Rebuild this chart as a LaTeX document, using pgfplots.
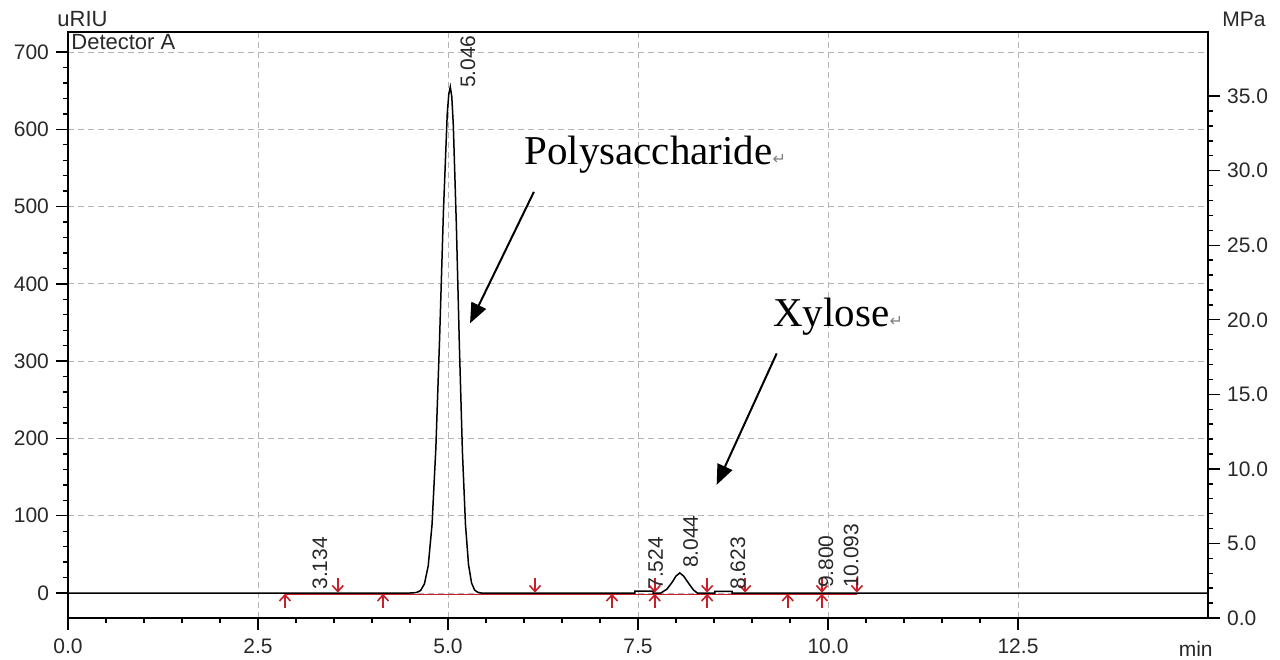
\documentclass[border=0pt]{standalone}
\usepackage{fontspec}
\setmainfont{Liberation Sans}
\newfontfamily\seriffont{Liberation Serif}
\newfontfamily\symfont{DejaVu Sans}
\usepackage{pgfplots}
\pgfplotsset{compat=1.18}
\usetikzlibrary{arrows.meta}
\definecolor{gridgray}{RGB}{180,180,180}
\definecolor{markred}{RGB}{200,30,40}
\definecolor{labelgray}{RGB}{40,40,40}

\begin{document}
\begin{tikzpicture}
\begin{axis}[
    name=main,
    scale only axis, width=570pt, height=293pt,
    xmin=0, xmax=15, ymin=-32.3, ymax=725.9,
    xtick={0,2.5,5,7.5,10,12.5},
    ytick={0,100,...,700},
    minor x tick num=4, minor y tick num=4,
    tick align=outside,
    xtick pos=left, ytick pos=left,
    major tick length=6pt, minor tick length=2.5pt,
    axis line style={line width=1pt},
    every tick/.style={black, line width=0.7pt},
    xmajorgrids, ymajorgrids,
    major grid style={gridgray, dash pattern=on 3pt off 2pt, line width=0.5pt},
    /pgf/number format/assume math mode=true,
    ticklabel style={font=\fontsize{10.5}{12}\selectfont, text=labelgray},
    xticklabel style={yshift=-1pt, /pgf/number format/.cd, fixed, fixed zerofill, precision=1},
    yticklabel style={/pgf/number format/.cd, fixed, precision=0},
    clip=false,
]
% integration baseline (drawn first, just under the signal)
\addplot[markred, line width=0.6pt] coordinates {(2.855,-2) (10.38,-2)};
% detector signal
\addplot[black, line width=0.75pt] coordinates {
  (0,0) (4.49,0) (4.54,0.2) (4.59,0.8) (4.64,3.3) (4.69,11.9) (4.74,35.4)
  (4.79,88.6) (4.84,187) (4.89,331) (4.94,494) (4.99,620) (5.01,645) (5.03,655)
  (5.05,642) (5.07,605) (5.11,476) (5.15,319) (5.19,182) (5.23,88.6) (5.27,36.8)
  (5.31,13) (5.35,3.9) (5.39,1.0) (5.44,0)
  (7.46,0) (7.46,2.5) (7.70,2.5) (7.70,0)
  (7.80,0) (7.88,5) (7.95,14) (8.00,22) (8.05,26) (8.10,22) (8.17,12) (8.23,4) (8.28,0)
  (8.51,0) (8.51,2) (8.74,2) (8.74,0) (15,0)};
% peak start / end markers
\addplot[markred, line width=0.8pt, -{Straight Barb[length=3pt,width=5.5pt]},
    quiver={u=0,v=18}] coordinates {
  (2.855,-19) (4.145,-19) (7.158,-19) (7.72,-19) (8.41,-19) (9.47,-19) (9.92,-19)};
\addplot[markred, line width=0.8pt, -{Straight Barb[length=3pt,width=5.5pt]},
    quiver={u=0,v=-18.5}] coordinates {
  (3.55,19) (6.145,19) (7.72,19) (8.41,19) (8.91,19) (9.92,19) (10.38,19)};
% retention time labels
\addplot[draw=none, nodes near coords={\pgfplotspointmeta}, point meta=explicit symbolic,
    every node near coord/.append style={rotate=90, anchor=north west, inner sep=0pt,
      font=\fontsize{10.5}{12}\selectfont, text=labelgray}] coordinates {
  (3.21,4) [3.134] (5.16,653) [5.046] (7.63,4) [7.524] (8.09,32) [8.044]
  (8.71,4) [8.623] (9.87,6) [9.800] (10.20,6) [10.093]};

\draw[line width=1pt, -{Triangle[length=10pt,width=8pt]}] (axis cs:6.13,519) -- (axis cs:5.29,349);
\draw[line width=1pt, -{Triangle[length=10pt,width=8pt]}] (axis cs:9.325,310) -- (axis cs:8.535,140);
\node[anchor=base west, inner sep=0pt, font=\seriffont\fontsize{20.5}{24}\selectfont]
  at (axis cs:6.00,554) {Polysaccharide{\symfont\fontsize{8}{9}\selectfont\color{gray}↵}};
\node[anchor=base west, inner sep=0pt, font=\seriffont\fontsize{20.5}{24}\selectfont]
  at (axis cs:9.276,345) {Xylose{\symfont\fontsize{8}{9}\selectfont\color{gray}↵}};

\node[anchor=north west, inner sep=0pt, font=\fontsize{11}{12}\selectfont, text=labelgray]
  at ([xshift=1.5pt,yshift=-1pt]rel axis cs:0,1) {Detector A};
\node[anchor=south west, inner sep=0pt, font=\fontsize{11}{12}\selectfont, text=labelgray]
  at ([xshift=-5.5pt,yshift=2.5pt]rel axis cs:0,1) {uRIU};
\node[anchor=north east, inner sep=0pt, font=\fontsize{10.5}{12}\selectfont, text=labelgray]
  at ([xshift=2.5pt,yshift=-11.5pt]rel axis cs:1,0) {min};
\end{axis}

\begin{axis}[
    scale only axis, width=570pt, height=293pt,
    xmin=0, xmax=15, ymin=0, ymax=39.3,
    axis x line=none, axis y line*=right,
    ytick={0,5,...,35}, minor y tick num=4,
    tick align=outside,
    major tick length=6pt, minor tick length=2.5pt,
    axis line style={line width=1pt},
    every tick/.style={black, line width=0.7pt},
    /pgf/number format/assume math mode=true,
    ticklabel style={font=\fontsize{10.5}{12}\selectfont, text=labelgray},
    yticklabel style={/pgf/number format/.cd, fixed, fixed zerofill, precision=1},
    clip=false,
]
\addplot[draw=none] coordinates {(0,0) (15,39)};
\node[anchor=south west, inner sep=0pt, font=\fontsize{10.5}{12}\selectfont, text=labelgray]
  at ([xshift=7pt,yshift=2.5pt]rel axis cs:1,1) {MPa};
\end{axis}

\pgfresetboundingbox
\path[use as bounding box] ([xshift=-34pt,yshift=-20.5pt]main.south west)
  rectangle ([xshift=36pt,yshift=16pt]main.north east);
\end{tikzpicture}
\end{document}
